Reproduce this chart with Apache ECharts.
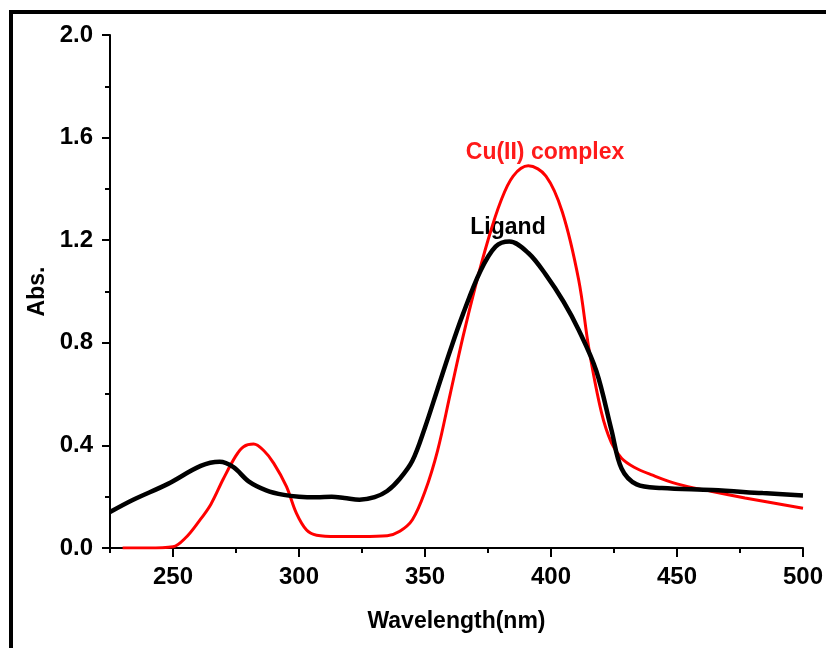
<!DOCTYPE html>
<html>
<head>
<meta charset="utf-8">
<script src="https://cdn.jsdelivr.net/npm/echarts@6/dist/echarts.min.js"></script>
<style>
  html, body { margin: 0; padding: 0; background: #fff; }
  #main { width: 826px; height: 648px; }
</style>
</head>
<body>
<div id="main"></div>
<script>
// Cu(II) complex spectrum
var cuWave = [230, 240, 250, 255, 260, 265, 270, 275, 278, 282, 286, 290, 295, 299, 303, 307, 315, 325, 335, 340, 345, 350, 355, 360, 365, 370, 375, 380, 385, 391, 398, 404.5, 411, 415, 420, 424, 428, 433, 440, 450, 464, 477, 500]
var cuAbs = [0, 0, 0.005, 0.04, 0.1, 0.17, 0.27, 0.36, 0.395, 0.405, 0.38, 0.33, 0.24, 0.135, 0.07, 0.05, 0.045, 0.045, 0.048, 0.065, 0.11, 0.22, 0.38, 0.6, 0.82, 1.02, 1.2, 1.35, 1.45, 1.49, 1.45, 1.31, 1.045, 0.78, 0.53, 0.41, 0.35, 0.315, 0.285, 0.25, 0.22, 0.195, 0.155]

// Ligand spectrum
var ligWave = [225, 234, 248, 261, 268.5, 274, 280, 287, 294, 300, 307, 313, 318, 324, 330, 335, 340, 345, 350, 355, 360, 365, 372, 378, 383.5, 391, 398, 405, 411, 418, 424, 428, 434, 444, 464, 484, 500]
var ligAbs = [0.14, 0.187, 0.25, 0.32, 0.336, 0.315, 0.26, 0.225, 0.207, 0.2, 0.198, 0.2, 0.195, 0.188, 0.198, 0.222, 0.27, 0.34, 0.47, 0.62, 0.77, 0.91, 1.08, 1.175, 1.195, 1.15, 1.065, 0.96, 0.85, 0.69, 0.46, 0.31, 0.248, 0.234, 0.226, 0.214, 0.205]

var majorX = [250, 300, 350, 400, 450, 500]

function pairs(xs, ys) {
  return xs.map(function (x, i) { return [x, ys[i]] })
}

var font = 'Liberation Sans, Arial, sans-serif'
var chart = echarts.init(document.getElementById('main'))

var option = {
  animation: false,
  backgroundColor: '#fff',
  grid: { left: 110, right: 22, top: 35, bottom: 100 },
  xAxis: [
    {
      type: 'value',
      min: 225,
      max: 500,
      interval: 25,
      name: 'Wavelength(nm)',
      nameLocation: 'middle',
      nameGap: 62,
      nameTextStyle: { color: '#000', fontFamily: font, fontWeight: 'bold', fontSize: 23 },
      axisLine: { show: true, lineStyle: { color: '#000', width: 2 } },
      axisTick: { show: true, customValues: majorX, length: 9, lineStyle: { color: '#000', width: 2 } },
      axisLabel: {
        customValues: majorX,
        margin: 17,
        color: '#000',
        fontFamily: font,
        fontWeight: 'bold',
        fontSize: 24
      },
      splitLine: { show: false }
    },
    {
      // minor ticks every 25 nm
      type: 'value',
      min: 225,
      max: 500,
      interval: 25,
      position: 'bottom',
      offset: 0,
      axisLine: { show: false },
      axisTick: { show: true, length: 5, lineStyle: { color: '#000', width: 2 } },
      axisLabel: { show: false },
      splitLine: { show: false }
    }
  ],
  yAxis: {
    type: 'value',
    min: 0,
    max: 2,
    interval: 0.4,
    name: 'Abs.',
    nameLocation: 'middle',
    nameRotate: 90,
    nameGap: 61,
    nameTextStyle: { color: '#000', fontFamily: font, fontWeight: 'bold', fontSize: 23 },
    axisLine: { show: true, lineStyle: { color: '#000', width: 2 } },
    axisTick: { show: true, length: 8, lineStyle: { color: '#000', width: 2 } },
    minorTick: { show: true, splitNumber: 2, length: 5, lineStyle: { color: '#000', width: 2 } },
    axisLabel: {
      margin: 17,
      color: '#000',
      fontFamily: font,
      fontWeight: 'bold',
      fontSize: 24,
      formatter: function (v) { return v.toFixed(1) }
    },
    splitLine: { show: false }
  },
  series: [
    {
      name: 'Cu(II) complex',
      type: 'line',
      data: pairs(cuWave, cuAbs),
      smooth: 0.35,
      showSymbol: false,
      lineStyle: { color: '#ff0000', width: 3 },
      z: 2
    },
    {
      name: 'Ligand',
      type: 'line',
      data: pairs(ligWave, ligAbs),
      smooth: 0.35,
      showSymbol: false,
      lineStyle: { color: '#000', width: 4.5 },
      z: 3
    }
  ],
  graphic: [
    { type: 'line', shape: { x1: 9, y1: 12, x2: 826, y2: 12 }, style: { stroke: '#000', lineWidth: 4 } },
    { type: 'line', shape: { x1: 11, y1: 10, x2: 11, y2: 648 }, style: { stroke: '#000', lineWidth: 4 } },
    {
      type: 'text',
      style: {
        text: 'Cu(II) complex', x: 545, y: 153, align: 'center', verticalAlign: 'middle',
        fill: '#ff1a1a', font: 'bold 23px ' + font
      }
    },
    {
      type: 'text',
      style: {
        text: 'Ligand', x: 508, y: 228, align: 'center', verticalAlign: 'middle',
        fill: '#000', font: 'bold 23px ' + font
      }
    }
  ]
}

chart.setOption(option)
</script>
</body>
</html>
